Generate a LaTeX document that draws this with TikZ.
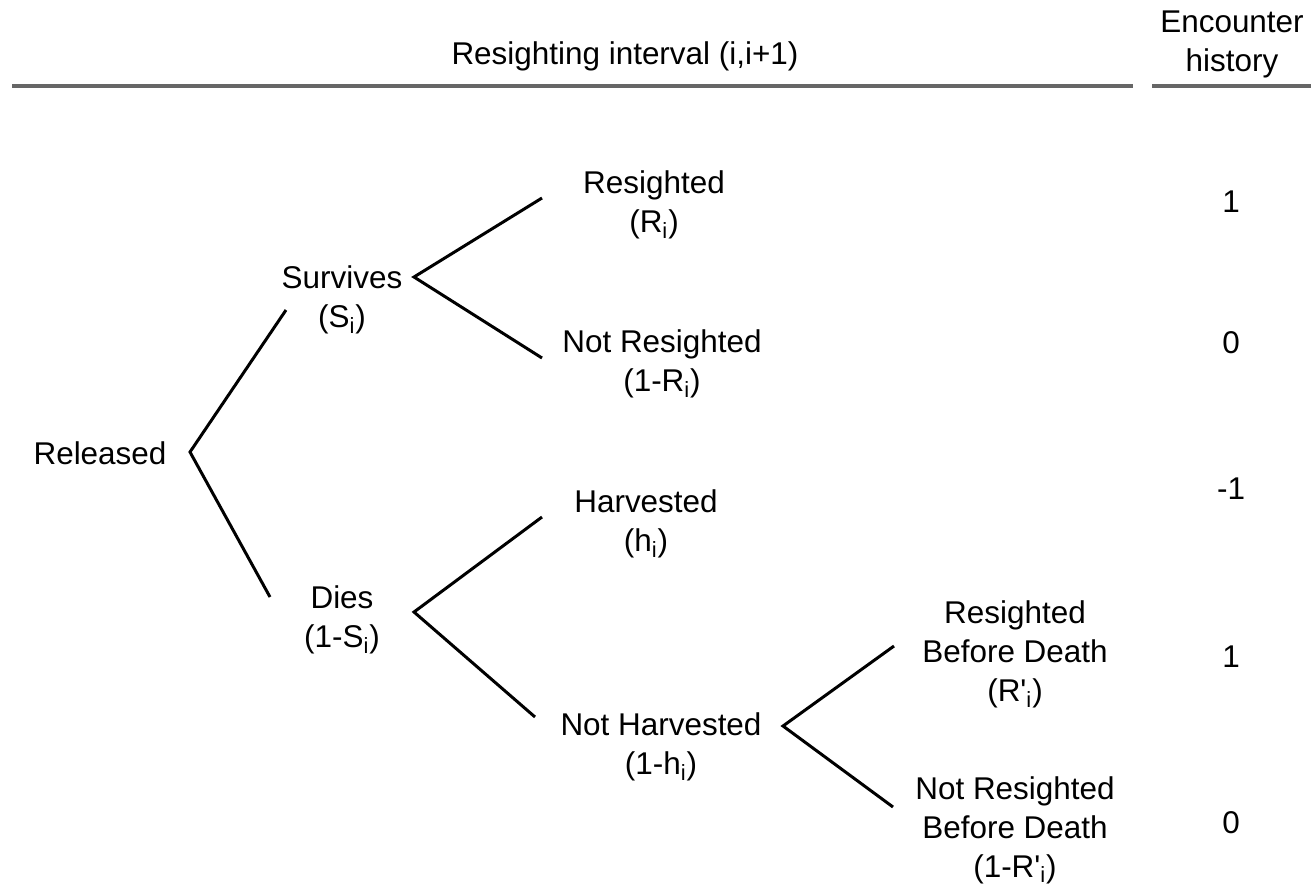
\documentclass[tikz,border=0pt]{standalone}
\usepackage{fontspec}
\setmainfont{Liberation Sans}
\usetikzlibrary{positioning}
\newcommand{\subi}{\textsubscript{i}}
\newcommand{\rprime}{\textquotesingle}
\tikzset{
  lbl/.style={align=center, inner sep=0pt, anchor=north,
    font=\fontsize{17.9}{22.2}\selectfont},
  val/.style={inner sep=0pt, anchor=base,
    font=\fontsize{17.9}{22.2}\selectfont},
  rule/.style={draw=black!60, line width=2.1pt},
  branch/.style={draw=black, line width=1.7pt},
}
\begin{document}
\begin{tikzpicture}[x=0.02cm, y=-0.02cm]
  \useasboundingbox (0,0) rectangle (1314,886);
  % header
  \node[val] (interval) at (625,64) {Resighting interval (i,i+1)};
  \node[lbl] (history) at (1232,11) {Encounter\\history};
  \coordinate (rule-a) at (12,86);
  \coordinate (rule-b) at (1133,86);
  \coordinate (rule-c) at (1152,86);
  \coordinate (rule-d) at (1311,86);
  \draw[rule] (rule-a) -- (rule-b);
  \draw[rule] (rule-c) -- (rule-d);
  % tree
  \node[lbl] (released) at (100,441.4) {Released};
  \node[lbl] (survives) at (342,265.4) {Survives\\(S\subi)};
  \node[lbl] (dies) at (342,585.4) {Dies\\(1-S\subi)};
  \node[lbl] (resighted) at (654,170.4) {Resighted\\(R\subi)};
  \node[lbl] (notresighted) at (662,329.4) {Not Resighted\\(1-R\subi)};
  \node[lbl] (harvested) at (646,489.4) {Harvested\\(h\subi)};
  \node[lbl] (notharvested) at (661,712.4) {Not Harvested\\(1-h\subi)};
  \node[lbl] (rbd) at (1015,600.4) {Resighted\\Before Death\\(R\rprime\subi)};
  \node[lbl] (nrbd) at (1015,776) {Not Resighted\\Before Death\\(1-R\rprime\subi)};
  % forks
  \coordinate (rel-fork) at (190,452);
  \coordinate (surv-in) at (286,310);
  \coordinate (dies-in) at (270,597);
  \coordinate (surv-fork) at (414,277);
  \coordinate (res-in) at (542,198);
  \coordinate (nres-in) at (542,358);
  \coordinate (dies-fork) at (414,612);
  \coordinate (harv-in) at (542,517);
  \coordinate (nharv-in) at (535,717);
  \coordinate (nharv-fork) at (783,726);
  \coordinate (rbd-in) at (894,646);
  \coordinate (nrbd-in) at (893,807);
  \draw[branch] (surv-in) -- (rel-fork) -- (dies-in);
  \draw[branch] (res-in) -- (surv-fork) -- (nres-in);
  \draw[branch] (harv-in) -- (dies-fork) -- (nharv-in);
  \draw[branch] (rbd-in) -- (nharv-fork) -- (nrbd-in);
  % encounter history
  \node[val] (h-res) at (1231,212) {1};
  \node[val] (h-nres) at (1231,353) {0};
  \node[val] (h-harv) at (1231,499) {-1};
  \node[val] (h-rbd) at (1231,667) {1};
  \node[val] (h-nrbd) at (1231,833) {0};
\end{tikzpicture}
\end{document}
